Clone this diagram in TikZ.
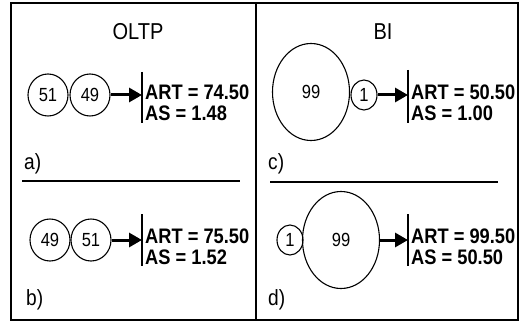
\documentclass[tikz,border=0pt]{standalone}
\usepackage{fontspec}
\setmainfont{Liberation Sans}
\newfontfamily\narrowsans[FakeStretch=0.87]{Liberation Sans}
\usetikzlibrary{shapes.geometric,arrows.meta,positioning}

\begin{document}
\begin{tikzpicture}[x=1pt,y=-1pt,
    job/.style={draw,ellipse,line width=1.1pt,inner sep=0pt,
        font=\narrowsans\fontsize{19}{19}\selectfont},
    mid/.style={job,minimum width=40,minimum height=42},
    small/.style={job,minimum width=26,minimum height=30},
    large/.style={job,minimum width=77,minimum height=97},
    flow/.style={line width=3pt,-{Triangle[length=13pt,width=14pt]}},
    res/.style={anchor=west,inner sep=0pt,font=\narrowsans\fontsize{21}{21}\selectfont\bfseries},
    tag/.style={anchor=west,inner sep=0pt,font=\narrowsans\fontsize{22}{22}\selectfont},
    head/.style={inner sep=0pt,font=\narrowsans\fontsize{23}{23}\selectfont}]
    \useasboundingbox (0,0) rectangle (521,323);
    \draw[line width=2pt] (11,3) rectangle (518,320);
    \draw[line width=2pt] (256,3) -- (256,320);

    \node[head] (oltp) at (138,32) {OLTP};
    \node[head] (bi) at (383,32) {BI};

    % a)
    \node[mid] (a51) at (48,95) {51};
    \node[mid] (a49) at (90,95) {49};
    \coordinate (abar) at (142,95);
    \draw[flow] (a49) -- (abar);
    \draw[line width=1.2pt] (142,72) -- (142,123);
    \node[res] (aart) at (145,92) {ART = 74.50};
    \node[res] (aas) at (145,113) {AS = 1.48};
    \node[tag] (alab) at (24,164) {a)};
    \draw[line width=2pt] (22,181) -- (240,181);

    % b)
    \node[mid] (b49) at (50,240) {49};
    \node[mid] (b51) at (91,240) {51};
    \coordinate (bbar) at (142,240);
    \draw[flow] (b51) -- (bbar);
    \draw[line width=1.2pt] (142,214) -- (142,266);
    \node[res] (bart) at (145,236) {ART = 75.50};
    \node[res] (bas) at (145,257) {AS = 1.52};
    \node[tag] (blab) at (26,300) {b)};

    % c)
    \node[large] (c99) at (311,92) {99};
    \node[small] (c1) at (364,95) {1};
    \coordinate (cbar) at (408,95);
    \draw[flow] (c1) -- (cbar);
    \draw[line width=1.2pt] (408,70) -- (408,123);
    \node[res] (cart) at (411,92) {ART = 50.50};
    \node[res] (cas) at (411,113) {AS = 1.00};
    \node[tag] (clab) at (268,164) {c)};
    \draw[line width=2pt] (270,182) -- (498,182);

    % d)
    \node[small] (d1) at (290,240) {1};
    \node[large] (d99) at (341,240) {99};
    \coordinate (dbar) at (408,240);
    \draw[flow] (d99) -- (dbar);
    \draw[line width=1.2pt] (408,214) -- (408,266);
    \node[res] (dart) at (411,236) {ART = 99.50};
    \node[res] (das) at (411,257) {AS = 50.50};
    \node[tag] (dlab) at (268,300) {d)};
\end{tikzpicture}
\end{document}
